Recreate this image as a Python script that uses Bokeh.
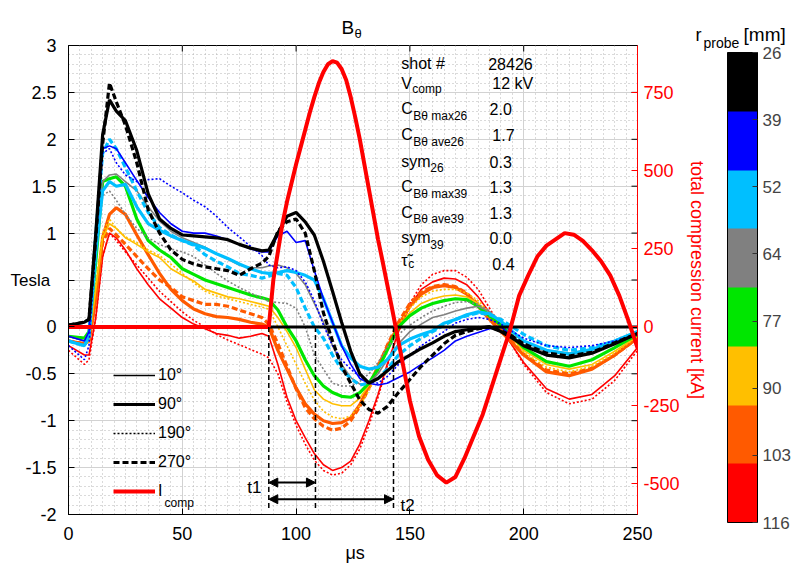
import numpy as np
from bokeh.plotting import figure
from bokeh.models import (Range1d, LinearAxis, FixedTicker, CustomJSTickFormatter, Label,
                          Legend, LegendItem, Arrow, NormalHead, ColorBar, LinearColorMapper)
from bokeh.embed import file_html
from bokeh.resources import INLINE

FONT = "Liberation Sans"

# ---------------- data ----------------
T_US = [0, 7, 9, 12, 15, 18, 21,
        25, 30, 35, 40, 45, 50, 55, 60, 65, 70, 75, 80, 85,
        88,
        92, 96, 100, 104, 108, 112, 116, 120, 124, 128, 132, 136, 140,
        145, 150, 155, 160, 165, 170, 175, 180, 185, 190, 195, 200,
        210, 220, 230, 240, 250]

B26_90 = [0.02, 0.05, 0.08, 1.0, 2.05, 2.42, 2.3,
          2.2, 1.88, 1.42, 1.15, 1.05, 0.98, 0.97, 0.96, 0.95, 0.93, 0.88, 0.84, 0.81,
          0.82,
          1.0, 1.18, 1.22, 1.12, 0.98, 0.7, 0.38, 0.05, -0.26, -0.5, -0.6, -0.55, -0.47,
          -0.37, -0.3, -0.23, -0.17, -0.1, -0.05, -0.03, -0.01, 0.0, -0.05, -0.12, -0.2,
          -0.3, -0.33, -0.28, -0.18, -0.07]
B26_270 = [0.02, 0.05, 0.08, 0.95, 1.95, 2.6, 2.4,
           2.15, 1.75, 1.25, 1.0, 0.82, 0.72, 0.67, 0.64, 0.62, 0.6, 0.55, 0.62, 0.68,
           0.75,
           1.02, 1.12, 1.15, 1.0, 0.6, 0.15, -0.15, -0.42, -0.6, -0.78, -0.88, -0.92, -0.85,
           -0.7, -0.56, -0.42, -0.3, -0.18, -0.09, -0.05, -0.02, 0.0, -0.04, -0.1, -0.18,
           -0.28, -0.31, -0.27, -0.17, -0.07]
B39_10 = [-0.1, -0.15, -0.05, 1.0, 1.9, 1.93, 1.9,
          1.75, 1.56, 1.38, 1.22, 1.1, 1.02, 1.0, 1.0, 0.97, 0.93, 0.88, 0.83, 0.8,
          0.8,
          0.97, 1.02, 0.9, 0.92, 0.6, 0.3, 0.05, -0.2, -0.4, -0.55, -0.6, -0.62, -0.6,
          -0.54, -0.48, -0.4, -0.33, -0.25, -0.15, -0.1, -0.06, -0.02, 0.0, -0.1, -0.2,
          -0.3, -0.33, -0.28, -0.18, -0.08]
B39_190 = [-0.2, -0.35, -0.2, 0.9, 1.85, 1.9, 1.75,
           1.62, 1.55, 1.57, 1.58, 1.5, 1.43, 1.35, 1.28, 1.18, 1.06, 0.96, 0.86, 0.76,
           0.66,
           0.63, 0.64, 0.6, 0.48, 0.28, 0.02, -0.2, -0.35, -0.45, -0.53, -0.58, -0.6, -0.53,
           -0.4, -0.3, -0.2, -0.12, -0.05, 0.04, 0.08, 0.1, 0.08, 0.03, -0.05, -0.12,
           -0.2, -0.22, -0.2, -0.15, -0.08]
B52_90 = [-0.15, -0.2, -0.1, 0.8, 1.45, 1.55, 1.5,
          1.52, 1.28, 1.1, 1.03, 0.97, 0.92, 0.88, 0.84, 0.78, 0.73, 0.67, 0.62, 0.58,
          0.57,
          0.58, 0.6, 0.58, 0.55, 0.5, 0.3, 0.05, -0.2, -0.33, -0.42, -0.45, -0.43, -0.35,
          -0.2, -0.13, -0.08, -0.04, 0.04, 0.08, 0.13, 0.16, 0.14, 0.06, -0.05, -0.15,
          -0.25, -0.29, -0.24, -0.15, -0.05]
B52_270 = [-0.15, -0.2, -0.1, 1.0, 1.85, 2.0, 1.9,
           1.7, 1.45, 1.22, 1.06, 0.98, 0.92, 0.87, 0.77, 0.7, 0.64, 0.57, 0.55, 0.52,
           0.54,
           0.57, 0.55, 0.42, 0.2, 0.0, -0.12, -0.3, -0.45, -0.55, -0.62, -0.6, -0.55, -0.45,
           -0.3, -0.2, -0.12, -0.05, 0.02, 0.08, 0.12, 0.15, 0.13, 0.08, 0.0, -0.08,
           -0.2, -0.25, -0.22, -0.15, -0.06]
B64_10 = [-0.1, -0.15, -0.05, 0.9, 1.55, 1.62, 1.63,
          1.55, 1.45, 1.28, 1.13, 1.02, 0.95, 0.9, 0.85, 0.78, 0.72, 0.66, 0.63, 0.63,
          0.65,
          0.66, 0.63, 0.57, 0.45, 0.25, 0.05, -0.2, -0.4, -0.54, -0.61, -0.6, -0.5, -0.35,
          -0.18, -0.05, 0.03, 0.1, 0.13, 0.17, 0.2, 0.22, 0.16, 0.05, -0.05, -0.15,
          -0.25, -0.28, -0.24, -0.15, -0.06]
B64_190 = [-0.1, -0.15, -0.05, 0.8, 1.4, 1.45, 1.35,
           1.2, 1.05, 0.95, 0.88, 0.83, 0.8, 0.75, 0.66, 0.57, 0.49, 0.42, 0.36, 0.31,
           0.27,
           0.26, 0.25, 0.2, 0.0, -0.3, -0.45, -0.6, -0.63, -0.63, -0.58, -0.5, -0.38, -0.22,
           -0.08, 0.02, 0.1, 0.17, 0.22, 0.26, 0.27, 0.24, 0.17, 0.05, -0.07, -0.18,
           -0.27, -0.3, -0.25, -0.17, -0.07]
B77_90 = [-0.1, -0.12, -0.05, 0.7, 1.55, 1.58, 1.6,
          1.5, 1.15, 0.92, 0.82, 0.74, 0.62, 0.56, 0.5, 0.46, 0.42, 0.38, 0.34, 0.31,
          0.29,
          0.18, 0.0, -0.15, -0.35, -0.52, -0.63, -0.7, -0.74, -0.75, -0.7, -0.6, -0.45, -0.25,
          0.0, 0.12, 0.2, 0.25, 0.28, 0.3, 0.29, 0.22, 0.12, 0.02, -0.1, -0.22,
          -0.37, -0.42, -0.35, -0.22, -0.08]
B90_10 = [-0.15, -0.2, -0.15, 0.4, 0.95, 1.1, 1.05,
          0.95, 0.88, 0.8, 0.74, 0.62, 0.55, 0.49, 0.4, 0.36, 0.32, 0.3, 0.27, 0.24,
          0.22,
          0.1, -0.05, -0.22, -0.45, -0.67, -0.77, -0.82, -0.84, -0.84, -0.76, -0.62, -0.45, -0.25,
          0.0, 0.15, 0.25, 0.3, 0.33, 0.34, 0.32, 0.25, 0.13, 0.0, -0.12, -0.25,
          -0.4, -0.45, -0.4, -0.26, -0.1]
B90_190 = [-0.15, -0.2, -0.15, 0.45, 1.0, 1.15, 1.05,
           0.96, 0.9, 0.82, 0.76, 0.67, 0.57, 0.47, 0.38, 0.33, 0.3, 0.27, 0.24, 0.21,
           0.19,
           0.0, -0.2, -0.4, -0.6, -0.78, -0.9, -0.96, -0.98, -0.95, -0.84, -0.68, -0.48, -0.26,
           0.02, 0.2, 0.32, 0.38, 0.4, 0.4, 0.36, 0.28, 0.15, 0.02, -0.12, -0.27,
           -0.43, -0.48, -0.42, -0.28, -0.1]
B103_90 = [-0.15, -0.18, -0.15, 0.3, 0.95, 1.2, 1.27,
           1.2, 0.98, 0.77, 0.57, 0.4, 0.28, 0.19, 0.14, 0.11, 0.1, 0.08, 0.05, 0.03,
           0.0,
           -0.25, -0.45, -0.65, -0.82, -0.93, -1.0, -1.03, -1.02, -0.97, -0.83, -0.63, -0.42, -0.22,
           0.02, 0.22, 0.35, 0.42, 0.44, 0.42, 0.35, 0.22, 0.08, -0.05, -0.17, -0.3,
           -0.48, -0.52, -0.45, -0.3, -0.12]
B103_270 = [-0.15, -0.18, -0.15, 0.3, 0.9, 1.05, 0.98,
            0.88, 0.75, 0.62, 0.5, 0.42, 0.32, 0.28, 0.24, 0.24, 0.22, 0.18, 0.14, 0.1,
            0.03,
            -0.18, -0.42, -0.66, -0.86, -0.98, -1.06, -1.1, -1.08, -1.0, -0.85, -0.65, -0.43, -0.2,
            0.05, 0.25, 0.37, 0.43, 0.45, 0.43, 0.36, 0.24, 0.1, -0.04, -0.16, -0.29,
            -0.46, -0.5, -0.44, -0.3, -0.12]
B116_10 = [-0.2, -0.3, -0.3, 0.1, 0.75, 1.0, 0.95,
           0.82, 0.62, 0.45, 0.3, 0.2, 0.1, 0.03, -0.02, -0.07, -0.09, -0.12, -0.1, -0.07,
           -0.1,
           -0.4, -0.75, -1.0, -1.18, -1.35, -1.47, -1.53, -1.5, -1.43, -1.25, -1.0, -0.72, -0.4,
           -0.05, 0.22, 0.4, 0.48, 0.52, 0.51, 0.45, 0.32, 0.15, -0.02, -0.2, -0.38,
           -0.66, -0.77, -0.72, -0.52, -0.22]
B116_190 = [-0.25, -0.4, -0.35, 0.1, 0.75, 1.0, 0.92,
            0.8, 0.66, 0.52, 0.38, 0.27, 0.16, 0.07, 0.0, -0.08, -0.14, -0.19, -0.24, -0.29,
            -0.33,
            -0.5, -0.8, -1.05, -1.25, -1.42, -1.53, -1.58, -1.56, -1.47, -1.3, -1.05, -0.75, -0.42,
            -0.05, 0.25, 0.45, 0.56, 0.6, 0.6, 0.53, 0.4, 0.2, 0.0, -0.2, -0.4,
            -0.7, -0.82, -0.77, -0.57, -0.25]

I_T = [0, 88, 90, 92, 94, 96, 98, 100, 102, 104, 106, 108, 110, 112, 114, 116, 118, 120,
       122, 124, 126, 128, 130, 132, 134, 136, 138, 140, 142, 144, 146, 148, 150,
       154, 158, 162, 166, 170, 174, 178, 182, 186, 190, 194, 198, 202, 206, 210, 214,
       218, 222, 226, 230, 234, 238, 242, 246, 250]
I_KA = [0, 0, 150, 240, 330, 400, 460, 520, 575, 630, 685, 735, 780, 815, 840, 850, 845, 825,
        790, 735, 670, 600, 520, 440, 360, 280, 210, 137, 65, -10, -85, -160, -236,
        -350, -425, -475, -498, -480, -420, -350, -280, -190, -100, -10, 100, 165, 225, 260, 280,
        300, 295, 275, 245, 210, 165, 100, 20, -67]

R_PROBE_MM = [26, 39, 52, 64, 77, 90, 103, 116]
R_COLORS = ["#000000", "#0000ff", "#00bfff", "#808080", "#00e600", "#ffbf00", "#ff5a00", "#ff0000"]
ANGLES = ["10°", "90°", "190°", "270°"]

SERIES = [  # (radius, angle, values)
    (116, "10°", B116_10), (116, "190°", B116_190),
    (103, "90°", B103_90), (103, "270°", B103_270),
    (90, "10°", B90_10), (90, "190°", B90_190),
    (77, "90°", B77_90),
    (64, "10°", B64_10), (64, "190°", B64_190),
    (52, "90°", B52_90), (52, "270°", B52_270),
    (39, "10°", B39_10), (39, "190°", B39_190),
    (26, "90°", B26_90), (26, "270°", B26_270),
]

ZERO_T = [88, 250]
ZERO_B = [0, 0]
T_MARKS = [88.0, 108.5, 142.8]   # start, t1 end, t2 end (µs)

X_TICKS = [0, 50, 100, 150, 200, 250]
X_MINOR = list(range(0, 251, 5))
Y_TICKS = [-2, -1.5, -1, -0.5, 0, 0.5, 1, 1.5, 2, 2.5, 3]
Y_MINOR = [round(v, 1) for v in np.arange(-2, 3.001, 0.1)]
YR_TICKS = [-500, -250, 0, 250, 500, 750]

ANNOT_NAMES = ["shot #", "V", "C", "C", "sym", "C", "C", "sym", "τ̃"]
ANNOT_SUBS = ["", "comp", "Bθ max26", "Bθ ave26", "26", "Bθ max39", "Bθ ave39", "39", "c"]
ANNOT_VALUES = ["28426", "12 kV", "2.0", "1.7", "0.3", "1.3", "1.3", "0.0", "0.4"]

STYLE = {"10°": dict(line_width=1.6, line_dash="solid"),
         "90°": dict(line_width=3.2, line_dash="solid"),
         "190°": dict(line_width=1.6, line_dash="2 2"),
         "270°": dict(line_width=3.2, line_dash="6 3")}
COLOR_OF = dict(zip(R_PROBE_MM, R_COLORS))

# ---------------- figure ----------------
X0, X1, Y0, Y1 = 0, 250, -2, 3
FRAME_W, FRAME_H = 569, 469
p = figure(width=791, height=580, x_range=Range1d(X0, X1), y_range=Range1d(Y0, Y1),
           output_backend="svg", toolbar_location=None,
           min_border_left=68, min_border_right=154, min_border_top=45, min_border_bottom=66)
p.outline_line_color = "black"
p.outline_line_width = 1
p.extra_y_ranges = {"kA": Range1d(-600, 900)}

x_ticker = FixedTicker(ticks=X_TICKS, minor_ticks=X_MINOR)
y_ticker = FixedTicker(ticks=Y_TICKS, minor_ticks=Y_MINOR)
fmt = CustomJSTickFormatter(code="return tick.toString();")


def style_axis(ax, color="black"):
    ax.axis_line_color = color
    ax.major_tick_line_color = color
    ax.major_tick_in = 6
    ax.major_tick_out = 0
    ax.minor_tick_line_color = None
    ax.major_label_text_color = color
    ax.major_label_text_font = FONT
    ax.major_label_text_font_size = "18px"
    ax.axis_label_text_font = FONT
    ax.axis_label_text_font_style = "normal"
    ax.axis_label_text_color = color
    ax.axis_label_text_font_size = "18px"


xa = p.xaxis[0]
xa.ticker = x_ticker
xa.formatter = fmt
style_axis(xa)
xa.major_label_standoff = 8
ya = p.yaxis[0]
ya.ticker = y_ticker
# the 0.5 label is hidden behind the "Tesla" label in the reference
ya.formatter = CustomJSTickFormatter(code="return tick == 0.5 ? '' : tick.toString();")
style_axis(ya)
ya.major_label_standoff = 8

ra = LinearAxis(y_range_name="kA", ticker=FixedTicker(ticks=YR_TICKS), formatter=fmt,
                axis_label="total compression current [kA]")
style_axis(ra, "#ff0000")
ra.major_label_standoff = 6
ra.axis_label_standoff = 4
p.add_layout(ra, "right")

for g, tk in ((p.xgrid[0], x_ticker), (p.ygrid[0], y_ticker)):
    g.ticker = tk
    g.grid_line_color = "#d2d2d2"
    g.grid_line_width = 1
    g.minor_grid_line_color = "#b4b4b4"
    g.minor_grid_line_dash = "1 3"
    g.minor_grid_line_width = 1

# mirrored box ticks (top edge for x ticks, right edge for left-axis ticks)
TICK_PX = 6
dy_tick = TICK_PX * (Y1 - Y0) / FRAME_H
dx_tick = TICK_PX * (X1 - X0) / FRAME_W
p.segment(x0=X_TICKS, y0=[Y1] * len(X_TICKS), x1=X_TICKS, y1=[Y1 - dy_tick] * len(X_TICKS),
          line_color="black", line_width=1)
p.segment(x0=[X1] * len(Y_TICKS), y0=Y_TICKS, x1=[X1 - dx_tick] * len(Y_TICKS), y1=Y_TICKS,
          line_color="black", line_width=1)

# ---------------- curves ----------------
for r, ang, vals in SERIES:
    p.line(T_US, vals, line_color=COLOR_OF[r], **STYLE[ang])

p.line(ZERO_T, ZERO_B, line_color="black", line_width=3)
p.line(I_T, I_KA, line_color="#ff0000", line_width=4, y_range_name="kA")

p.segment(x0=T_MARKS, y0=[0] * 3, x1=T_MARKS, y1=[-1.93] * 3,
          line_color="black", line_width=1.5, line_dash="5 3")
for t_end, y_arrow in ((T_MARKS[1], -1.66), (T_MARKS[2], -1.837)):
    p.add_layout(Arrow(start=NormalHead(size=9, fill_color="black", line_color="black"),
                       end=NormalHead(size=9, fill_color="black", line_color="black"),
                       x_start=T_MARKS[0], y_start=y_arrow, x_end=t_end, y_end=y_arrow,
                       line_width=2, line_color="black"))

# ---------------- legend (proxy renderers hold NaN only, nothing is drawn) ----------------
NAN2 = [np.nan, np.nan]
items = []
for ang in ANGLES:
    rr = p.line(NAN2, NAN2, line_color="black", **STYLE[ang])
    items.append(LegendItem(label=ang, renderers=[rr]))
ri = p.line(NAN2, NAN2, line_color="#ff0000", line_width=4)
items.append(LegendItem(label="I", renderers=[ri]))
leg = Legend(items=items, location=(45, 13), padding=0, margin=0, spacing=9,
             label_height=20, glyph_height=20, glyph_width=42, label_standoff=3,
             label_text_font=FONT, label_text_font_size="16px", label_text_color="black",
             background_fill_alpha=0, border_line_color=None)
p.add_layout(leg)


def lab(text, x, y, size, color="black", x_offset=0, place=None):
    lb = Label(x=x, y=y, text=text, text_font=FONT, text_font_size=f"{size}px",
               text_color=color, text_baseline="alphabetic", text_align="left",
               x_offset=x_offset)
    if place is None:
        p.add_layout(lb)
    else:
        p.add_layout(lb, place)


lab("comp", 42.2, -1.873, 12)

# ---------------- annotations ----------------
ROW_Y = [2.804, 2.591, 2.324, 2.047, 1.759, 1.493, 1.215, 0.949, 0.704]
SUB_Y = [2.804, 2.537, 2.249, 1.972, 1.695, 1.418, 1.151, 0.880, 0.672]
SUB_DX = [0, 11, 12, 12, 29, 12, 12, 29, 7]
VAL_X = [184.4, 186.2, 185.0, 186.2, 185.0, 185.0, 185.0, 185.0, 186.2]
for name, sub, val, yy, sy, dx, vx in zip(ANNOT_NAMES, ANNOT_SUBS, ANNOT_VALUES,
                                          ROW_Y, SUB_Y, SUB_DX, VAL_X):
    lab(name, 146.2, yy, 16)
    if sub:
        lab(sub, 146.2, sy, 12, x_offset=dx)
    lab(val, vx, yy if name != "τ̃" else 0.672, 16)

lab("t1", 78.5, -1.716, 17)
lab("t2", 145.9, -1.908, 17)

# texts outside the frame: attached to side panels (so they are not clipped);
# spread over the panels so that each panel keeps within its border.
lab("B", 119.9, 3.188, 19, place="above")
lab("Tesla", -25.5, 0.50, 17, place="above")
lab("θ", 119.9, 3.124, 13, x_offset=13, place="left")
lab("r", 275.5, 3.113, 18, place="left")
lab("probe", 275.5, 3.028, 14, x_offset=8, place="right")
lab("[mm]", 296.6, 3.113, 19, place="right")
lab("μs", 121.7, -2.409, 18, place="below")

# ---------------- colorbar ----------------
lo, hi = min(R_PROBE_MM), max(R_PROBE_MM)
mapper = LinearColorMapper(palette=R_COLORS[::-1], low=-hi, high=-lo)
cb_pos = sorted(float(-v) for v in np.linspace(lo, hi, len(R_PROBE_MM)))
cb_labels = [str(v) for v in R_PROBE_MM[::-1]]
cb_fmt = CustomJSTickFormatter(args=dict(pos=cb_pos, labels=cb_labels), code="""
let best = 0;
for (let i = 0; i < pos.length; i++) {
  if (Math.abs(pos[i] - tick) < Math.abs(pos[best] - tick)) best = i;
}
return labels[best];
""")
cb = ColorBar(color_mapper=mapper, ticker=FixedTicker(ticks=cb_pos), formatter=cb_fmt,
              location=(659, -8), width=30, height=470, padding=0, margin=0,
              bar_line_color="black", bar_line_width=1,
              major_tick_line_color="#333333", major_tick_in=5, major_tick_out=0,
              minor_tick_line_color=None, label_standoff=5,
              major_label_text_font=FONT, major_label_text_font_size="17px",
              background_fill_alpha=0, border_line_color=None)
p.add_layout(cb)

open("out.html", "w").write(file_html(p, INLINE))
